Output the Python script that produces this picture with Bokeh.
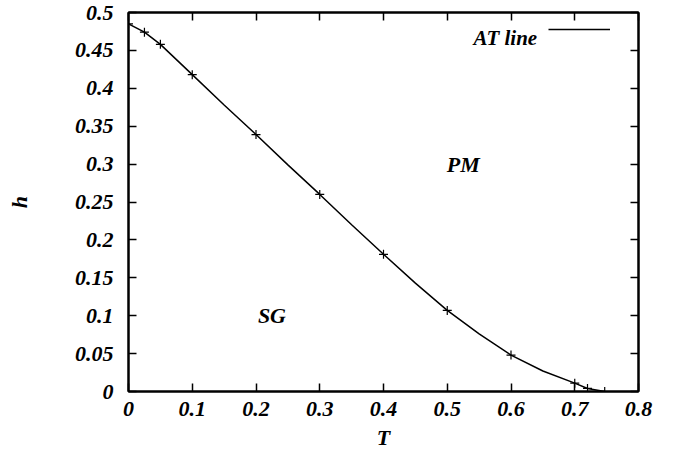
from bokeh.plotting import figure
from bokeh.models import Range1d, LinearAxis, Legend, LegendItem, Label, FixedTicker
from bokeh.embed import file_html
from bokeh.resources import INLINE

# AT line: smooth curve points
line_T = [0.0, 0.025, 0.05, 0.1, 0.15, 0.2, 0.25, 0.3, 0.35, 0.4, 0.45, 0.5, 0.55, 0.6, 0.65, 0.7, 0.72, 0.747]
line_h = [0.485, 0.474, 0.458, 0.418, 0.378, 0.339, 0.299, 0.260, 0.220, 0.181, 0.143, 0.107, 0.076, 0.048, 0.027, 0.011, 0.004, 0.0]
# marked points
mark_T = [0.0, 0.025, 0.05, 0.1, 0.2, 0.3, 0.4, 0.5, 0.6, 0.7, 0.72, 0.747]
mark_h = [0.485, 0.474, 0.458, 0.418, 0.339, 0.260, 0.181, 0.107, 0.048, 0.011, 0.004, 0.0]

x_ticks = [0, 0.1, 0.2, 0.3, 0.4, 0.5, 0.6, 0.7, 0.8]
y_ticks = [0, 0.05, 0.1, 0.15, 0.2, 0.25, 0.3, 0.35, 0.4, 0.45, 0.5]

FONT = "Liberation Serif"
FS = "22px"

p = figure(width=673, height=459, output_backend="svg", toolbar_location=None,
           x_range=Range1d(0, 0.8), y_range=Range1d(0, 0.5),
           min_border_left=128, min_border_right=35, min_border_top=12, min_border_bottom=68)
p.grid.visible = False
p.outline_line_color = "black"
p.outline_line_width = 2
p.background_fill_color = "white"
p.border_fill_color = "white"

def style_axis(ax, ticks, labels=True):
    ax.ticker = FixedTicker(ticks=ticks)
    ax.major_tick_in = 8
    ax.major_tick_out = 0
    ax.minor_tick_in = 0
    ax.minor_tick_out = 0
    ax.major_tick_line_width = 1.5
    ax.axis_line_width = 2
    ax.axis_line_color = "black"
    ax.major_label_text_font = FONT
    ax.major_label_text_font_style = "bold italic"
    ax.major_label_text_font_size = FS
    ax.major_label_text_color = "black"
    ax.axis_label_text_font = FONT
    ax.axis_label_text_font_style = "bold italic"
    ax.axis_label_text_font_size = FS
    ax.axis_label_text_color = "black"
    if not labels:
        ax.major_label_overrides = {t: "" for t in ticks}
        ax.major_label_standoff = 0

style_axis(p.xaxis[0], x_ticks)
style_axis(p.yaxis[0], y_ticks)
p.xaxis[0].axis_label = "T"
p.yaxis[0].axis_label = "h"
p.xaxis[0].major_label_standoff = 10
p.yaxis[0].major_label_standoff = 15
p.xaxis[0].axis_label_standoff = 6
p.yaxis[0].axis_label_standoff = 40

top = LinearAxis()
style_axis(top, x_ticks, labels=False)
p.add_layout(top, "above")
right = LinearAxis()
style_axis(right, y_ticks, labels=False)
p.add_layout(right, "right")

ln = p.line(line_T, line_h, line_color="black", line_width=1.5)
p.scatter(mark_T, mark_h, marker="cross", size=9, line_color="black", line_width=1.2)

for txt, tx, ty in [("PM", 0.525, 0.30), ("SG", 0.225, 0.10)]:
    p.add_layout(Label(x=tx, y=ty, text=txt, text_font=FONT, text_font_style="bold italic",
                       text_font_size=FS, text_align="center", text_baseline="middle", text_color="black"))

legend = Legend(items=[LegendItem(label="", renderers=[ln])], location=(420, 354),
                padding=0, spacing=0, glyph_width=62, glyph_height=16, label_width=0,
                label_standoff=0, border_line_color=None, background_fill_alpha=0,
                label_text_font_size="1px")
p.add_layout(legend, "center")
p.add_layout(Label(x=0.641, y=0.467, text="AT line", text_font=FONT, text_font_style="bold italic",
                   text_font_size="21px", text_align="right", text_baseline="middle", text_color="black"))

open("out.html", "w").write(file_html(p, INLINE))
